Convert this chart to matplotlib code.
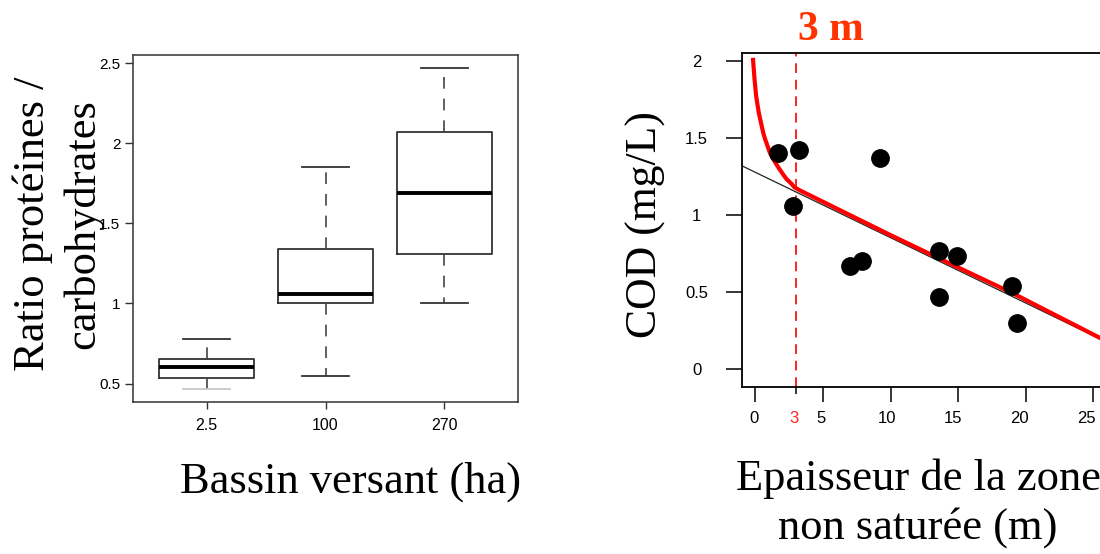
import numpy as np
import matplotlib.pyplot as plt
from matplotlib.transforms import ScaledTranslation

plt.rcParams['font.family'] = ['Liberation Sans', 'DejaVu Sans']
SERIF = 'Liberation Serif'

# left panel: protein / carbohydrate ratio per catchment size
bassins = ['2.5', '100', '270']
whislo = [0.463, 0.55, 1.001]
q1 = [0.535, 1.001, 1.306]
med = [0.602, 1.059, 1.688]
q3 = [0.652, 1.337, 2.068]
whishi = [0.778, 1.850, 2.469]

# right panel: COD vs unsaturated zone thickness
zns = [1.65, 3.20, 2.79, 9.19, 6.97, 7.88, 13.55, 14.9, 13.55, 18.97, 19.34]
cod = [1.40, 1.42, 1.06, 1.37, 0.67, 0.70, 0.77, 0.735, 0.47, 0.54, 0.30]

fit_x = [-1.0, 26.0]
fit_y = [1.32, 0.175]

curve_x = [-0.17, -0.12, -0.05, 0.07, 0.25, 0.37, 0.6, 0.74, 1.1, 1.35, 1.7,
           2.09, 2.3, 2.71, 2.9, 3.3, 10.0, 15.0, 19.1, 26.0]
curve_y = [2.02, 1.96, 1.88, 1.77, 1.67, 1.62, 1.53, 1.49, 1.40, 1.36, 1.31,
           1.26, 1.235, 1.20, 1.18, 1.16, 0.87, 0.66, 0.49, 0.18]

seuil = 3

W, H = 1100, 554
fig = plt.figure(figsize=(W / 100, H / 100), dpi=100)

# ---------------- left boxplot ----------------
ax1 = fig.add_axes([133 / W, 1 - 402 / H, 385 / W, 347 / H])
stats = []
for i in range(len(bassins)):
    stats.append(dict(label=bassins[i], whislo=whislo[i], q1=q1[i], med=med[i],
                      q3=q3[i], whishi=whishi[i]))
bp = ax1.bxp(stats, positions=[1, 2, 3], widths=0.8, capwidths=0.4, showfliers=False,
             boxprops=dict(color='#333333', linewidth=1.3),
             medianprops=dict(color='black', linewidth=2.8),
             whiskerprops=dict(color='#444444', linewidth=1.2, linestyle=(0, (7, 6))),
             capprops=dict(color='#333333', linewidth=1.3))
bp['caps'][0].set_color('#c8c8c8')
ax1.set_xlim(0.38, 3.62)
ax1.set_ylim(0.385, 2.55)
ax1.set_yticks([0.5, 1, 1.5, 2, 2.5])
ax1.set_yticklabels(['0.5', '1', '1.5', '2', '2.5'])
ax1.tick_params(axis='y', length=5.5, pad=3.5, labelsize=11, width=1, color='#333333')
ax1.tick_params(axis='x', length=5, pad=6.5, labelsize=11.5, width=1, color='#333333')
for s in ax1.spines.values():
    s.set_color('#333333')
    s.set_linewidth(1.1)

fig.text(58 / W, 1 - 224 / H, 'Ratio protéines /\ncarbohydrates', rotation=90,
         ha='center', va='center', multialignment='center', linespacing=1.3,
         family=SERIF, fontsize=32)
fig.text(351 / W, 1 - 493 / H, 'Bassin versant (ha)', ha='center', va='baseline',
         family=SERIF, fontsize=32)

# ---------------- right scatter ----------------
ax2 = fig.add_axes([741.7 / W, 1 - 386.7 / H, (1107 - 741.7) / W, (386.7 - 53.3) / H])
ax2.plot(fit_x, fit_y, color='#222222', linewidth=0.9, zorder=2)
ax2.plot(curve_x, curve_y, color='#ff0000', linewidth=3, zorder=3, solid_capstyle='butt')
ax2.axvline(seuil, color='#ff2222', linewidth=1.4, linestyle=(0, (5, 3.5)), zorder=1)
ax2.plot(zns, cod, 'o', color='black', markersize=12.5, zorder=4)
ax2.set_xlim(-1, 26)
ax2.set_ylim(-0.113, 2.049)
xt_vals = [0, 3, 5, 10, 15, 20, 25]
ax2.set_xticks(xt_vals)
ax2.set_yticks([0, 0.5, 1, 1.5, 2])
ax2.set_yticklabels(['0', '0.5', '1', '1.5', '2'])
ax2.tick_params(axis='x', length=10.8, pad=7, labelsize=12, width=1.1)
ax2.tick_params(axis='y', length=11.5, pad=21, labelsize=12, width=1.1)
for lab in ax2.get_yticklabels():
    lab.set_ha('center')
# in the original the x labels drift slightly left of their ticks
for v, lab in zip(xt_vals, ax2.get_xticklabels()):
    dx = (-1 - 0.25 * v) / 100
    lab.set_transform(lab.get_transform() + ScaledTranslation(dx, 0, fig.dpi_scale_trans))
xt = ax2.get_xticklabels()
xt[1].set_color('#ff2222')
ax2.xaxis.get_major_ticks()[1].tick1line.set_color('#ff2222')
ax2.xaxis.get_major_ticks()[1].tick1line.set_markersize(5)
for s in ax2.spines.values():
    s.set_linewidth(1.3)

fig.text(831 / W, 1 - 40 / H, '3 m', ha='center', va='baseline', family=SERIF,
         fontweight='bold', fontsize=30, color='#ff3300')
fig.text(646 / W, 1 - 224.5 / H, 'COD (mg/L)', rotation=90, ha='center', va='center',
         family=SERIF, fontsize=31.5)
fig.text(918 / W, 1 - 490 / H, 'Epaisseur de la zone', ha='center', va='baseline',
         family=SERIF, fontsize=32)
fig.text(918 / W, 1 - 539 / H, 'non saturée (m)', ha='center', va='baseline',
         family=SERIF, fontsize=32)

fig.savefig('out.png', dpi=100)
